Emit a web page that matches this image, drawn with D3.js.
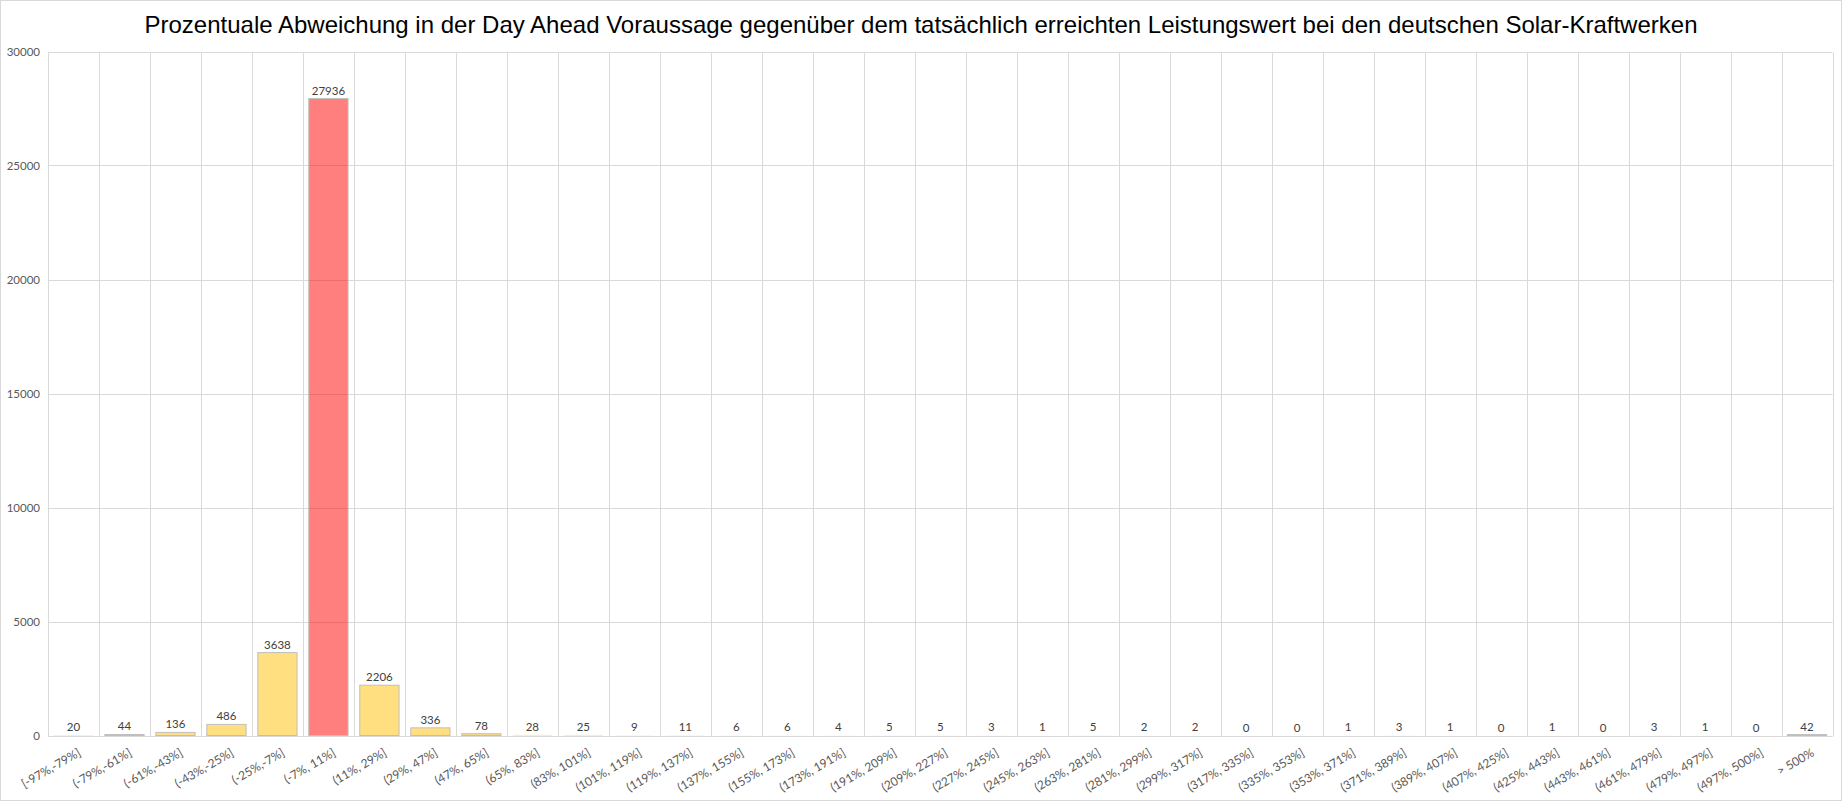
<!DOCTYPE html>
<html>
<head>
<meta charset="utf-8">
<script src="https://cdn.jsdelivr.net/npm/d3@7"></script>
<style>
  html, body { margin: 0; padding: 0; background: #fff; }
  svg { display: block; }
</style>
</head>
<body>
<svg id="chart" width="1842" height="801"></svg>
<script>
const title = "Prozentuale Abweichung in der Day Ahead Voraussage gegenüber dem tatsächlich erreichten Leistungswert bei den deutschen Solar-Kraftwerken";
const categories = [
  "[-97%,-79%]", "(-79%,-61%]", "(-61%,-43%]", "(-43%,-25%]", "(-25%,-7%]",
  "(-7%, 11%]", "(11%, 29%]", "(29%, 47%]", "(47%, 65%]", "(65%, 83%]",
  "(83%, 101%]", "(101%, 119%]", "(119%, 137%]", "(137%, 155%]", "(155%, 173%]",
  "(173%, 191%]", "(191%, 209%]", "(209%, 227%]", "(227%, 245%]", "(245%, 263%]",
  "(263%, 281%]", "(281%, 299%]", "(299%, 317%]", "(317%, 335%]", "(335%, 353%]",
  "(353%, 371%]", "(371%, 389%]", "(389%, 407%]", "(407%, 425%]", "(425%, 443%]",
  "(443%, 461%]", "(461%, 479%]", "(479%, 497%]", "(497%, 500%]", "> 500%"
];
const counts = [
  20, 44, 136, 486, 3638,
  27936, 2206, 336, 78, 28,
  25, 9, 11, 6, 6,
  4, 5, 5, 3, 1,
  5, 2, 2, 0, 0,
  1, 3, 1, 0, 1,
  0, 3, 1, 0, 42
];
const highlightCategory = "(-7%, 11%]";
const yTicks = [0, 5000, 10000, 15000, 20000, 25000, 30000];

const svg = d3.select("#chart");
const W = 1842, H = 801;
const plot = { left: 48, right: 1832.5, top: 51.5, bottom: 735.5 };

// outer border
svg.append("rect")
  .attr("x", 0.5).attr("y", 0.5).attr("width", W - 1).attr("height", H - 1)
  .attr("fill", "#fff").attr("stroke", "#d9d9d9");

const x = d3.scaleBand().domain(categories).range([plot.left, plot.right]).paddingInner(0.23).paddingOuter(0.115);
const xGrid = d3.scaleLinear().domain([0, categories.length]).range([plot.left, plot.right]);
const y = d3.scaleLinear().domain([0, 30000]).range([plot.bottom, plot.top]);

// gridlines
const grid = svg.append("g").attr("stroke", "#d9d9d9").attr("stroke-width", 1);
grid.selectAll("line.h").data(yTicks).join("line")
  .attr("x1", plot.left).attr("x2", plot.right)
  .attr("y1", d => Math.round(y(d)) + 0.5).attr("y2", d => Math.round(y(d)) + 0.5);
grid.selectAll("line.v").data(d3.range(categories.length + 1)).join("line")
  .attr("x1", d => Math.round(xGrid(d)) + 0.5).attr("x2", d => Math.round(xGrid(d)) + 0.5)
  .attr("y1", Math.round(plot.top) + 0.5).attr("y2", Math.round(plot.bottom) + 0.5);

// y axis labels
const yAxis = d3.axisLeft(y).tickValues(yTicks).tickSize(0).tickPadding(8).tickFormat(d3.format("d"));
const ya = svg.append("g").attr("transform", `translate(${plot.left},0)`).call(yAxis);
ya.select(".domain").remove();
ya.selectAll("text").attr("fill", "#595959").style("font-family", "Lato, 'Open Sans', sans-serif").style("font-size", "11.5px");

// bars
const data = categories.map((c, i) => ({ c, v: counts[i] }));
svg.append("g").selectAll("rect").data(data).join("rect")
  .attr("x", d => x(d.c))
  .attr("width", x.bandwidth())
  .attr("y", d => y(d.v))
  .attr("height", d => Math.max(0, plot.bottom - y(d.v)))
  .attr("fill", d => d.c === highlightCategory ? "#ff0000" : "#ffc000")
  .attr("fill-opacity", 0.5)
  .attr("stroke", d => d.v > 30 ? "#bfbfbf" : "none")
  .attr("stroke-width", 1);

// data labels
svg.append("g").selectAll("text").data(data).join("text")
  .attr("x", d => x(d.c) + x.bandwidth() / 2)
  .attr("y", d => y(d.v) - 4)
  .attr("text-anchor", "middle")
  .attr("fill", "#404040")
  .style("font-family", "Lato, 'Open Sans', sans-serif")
  .style("font-size", "11.5px")
  .text(d => d.v);

// x axis labels
const xAxis = d3.axisBottom(x).tickSize(0).tickPadding(0);
const xa = svg.append("g").attr("transform", `translate(0,${plot.bottom})`).call(xAxis);
xa.select(".domain").remove();
xa.selectAll("text")
  .attr("fill", "#595959")
  .style("font-family", "Lato, 'Open Sans', sans-serif")
  .style("font-size", "12px")
  .attr("text-anchor", "end")
  .attr("dy", "0.35em")
  .attr("y", 0)
  .attr("transform", "translate(6,16) rotate(-30)");

// title
svg.append("text")
  .attr("x", 921).attr("y", 33)
  .attr("text-anchor", "middle")
  .attr("fill", "#000")
  .style("font-family", "'Liberation Sans', Arial, sans-serif")
  .style("font-size", "24px")
  .text(title);
</script>
</body>
</html>
